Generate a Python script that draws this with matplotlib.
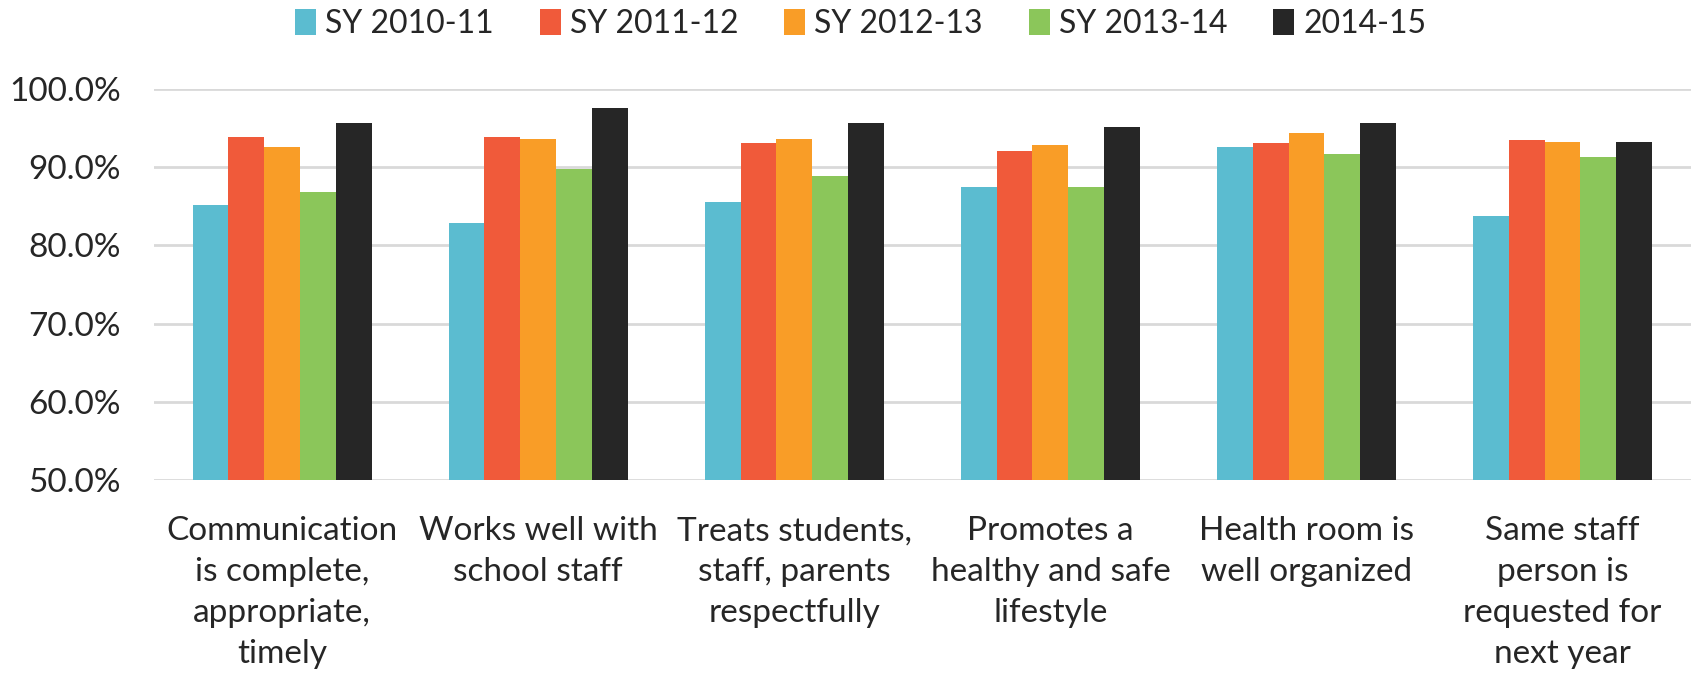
import matplotlib
matplotlib.use("Agg")
import matplotlib.pyplot as plt
import numpy as np
from matplotlib.ticker import FuncFormatter, MultipleLocator

categories = [
    "Communication\nis complete,\nappropriate,\ntimely",
    "Works well with\nschool staff",
    "Treats students,\nstaff, parents\nrespectfully",
    "Promotes a\nhealthy and safe\nlifestyle",
    "Health room is\nwell organized",
    "Same staff\nperson is\nrequested for\nnext year",
]
series_names = ["SY 2010-11", "SY 2011-12", "SY 2012-13", "SY 2013-14", "2014-15"]
sy_2010_11 = [85.1, 82.8, 85.6, 87.4, 92.6, 83.7]
sy_2011_12 = [93.8, 93.8, 93.1, 92.1, 93.1, 93.4]
sy_2012_13 = [92.6, 93.6, 93.6, 92.8, 94.4, 93.2]
sy_2013_14 = [86.8, 89.8, 88.9, 87.4, 91.7, 91.3]
sy_2014_15 = [95.6, 97.6, 95.6, 95.1, 95.6, 93.2]
colors = ["#5BBCD0", "#F05A3A", "#F99D27", "#8BC65A", "#262626"]

series = [sy_2010_11, sy_2011_12, sy_2012_13, sy_2013_14, sy_2014_15]

plt.rcParams['font.family'] = ['Lato', 'DejaVu Sans']

fig = plt.figure(figsize=(16.94, 6.83), dpi=100)
ax = fig.add_axes([0.091, 0.297, 0.907, 0.573])

x = np.arange(len(categories))
w = 0.14
for i, (vals, name, c) in enumerate(zip(series, series_names, colors)):
    ax.bar(x + (i - 2) * w, np.array(vals) - 50, width=w, bottom=50, color=c,
           label=name, zorder=3)

ax.set_xlim(-0.5, len(categories) - 0.5)
ax.set_ylim(50, 100)
ax.yaxis.set_major_locator(MultipleLocator(10))
ax.yaxis.set_major_formatter(FuncFormatter(lambda v, p: f"{v:.1f}%"))
ax.grid(axis='y', color='#D9D9D9', linewidth=2, zorder=0)
ax.set_axisbelow(True)
for s in ax.spines.values():
    s.set_visible(False)
ax.set_xticks(x)
ax.set_xticklabels(categories, fontsize=24, color='#262626', linespacing=1.45)
ax.tick_params(axis='x', length=0, pad=26)
ax.tick_params(axis='y', length=0, pad=24, labelsize=24, labelcolor='#262626')

leg = fig.legend(loc='center', bbox_to_anchor=(0.508, 0.965), ncol=5, frameon=False,
                 fontsize=23, handlelength=0.66, handleheight=0.9, handletextpad=0.28,
                 columnspacing=1.44, labelcolor='#262626')

fig.savefig("out.png", dpi=100)
